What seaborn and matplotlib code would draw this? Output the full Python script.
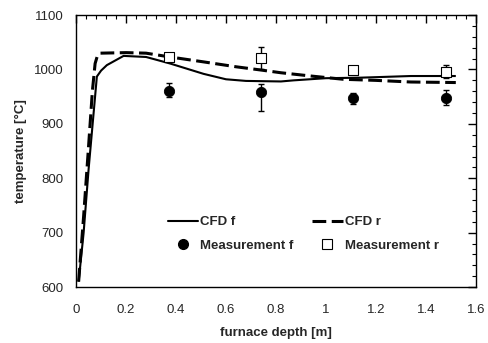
import numpy as np
import pandas as pd
import seaborn as sns
import matplotlib.pyplot as plt
from matplotlib.lines import Line2D
from matplotlib.ticker import MultipleLocator

# CFD profiles
cfd_f_x = [0.01, 0.03, 0.05, 0.07, 0.083, 0.10, 0.123, 0.19, 0.28, 0.376, 0.51, 0.60, 0.68, 0.82, 0.87, 1.0, 1.14, 1.34, 1.52]
cfd_f_t = [610, 700, 817, 920, 987, 998, 1008, 1025, 1023, 1011, 992, 982, 979, 978, 980, 984, 985, 988, 988]
cfd_r_x = [0.01, 0.03, 0.05, 0.065, 0.076, 0.085, 0.096, 0.2, 0.28, 0.376, 0.51, 0.64, 0.74, 0.82, 0.94, 1.07, 1.2, 1.34, 1.52]
cfd_r_t = [610, 730, 860, 960, 1011, 1025, 1030, 1031, 1030, 1023, 1014, 1005, 999, 994, 988, 982, 980, 977, 976]

# measurements
meas_x = [0.37, 0.74, 1.11, 1.48]
meas_f = [961, 958, 948, 948]
meas_f_lo = [12, 35, 12, 13]
meas_f_hi = [15, 16, 8, 14]
meas_r = [1023, 1021, 999, 996]
meas_r_err = [8, 20, 0, 12]

xtick_labels = ['0', '0.2', '0.4', '0.6', '0.8', '1', '1.2', '1.4', '1.6']

lines = pd.concat([
    pd.DataFrame({'x': cfd_f_x, 't': cfd_f_t, 'case': 'CFD f'}),
    pd.DataFrame({'x': cfd_r_x, 't': cfd_r_t, 'case': 'CFD r'}),
], ignore_index=True)

sns.set_theme(style='white')
plt.rcParams['font.family'] = ['Liberation Sans', 'DejaVu Sans']

fig, ax = plt.subplots(figsize=(4.88, 3.43), dpi=100)
fig.subplots_adjust(left=0.156, right=0.975, top=0.956, bottom=0.163)

sns.lineplot(data=lines, x='x', y='t', hue='case', style='case',
             palette=['black', 'black'], dashes=[(1, 0), (4.5, 1.8)],
             sort=False, ax=ax, legend=False)
ax.lines[0].set_linewidth(1.5)
ax.lines[1].set_linewidth(2.2)

ax.errorbar(meas_x, meas_f, yerr=[meas_f_lo, meas_f_hi], fmt='none',
            ecolor='black', elinewidth=1, capsize=2.5, zorder=3)
ax.errorbar(meas_x, meas_r, yerr=meas_r_err, fmt='none',
            ecolor='black', elinewidth=1, capsize=2.5, zorder=3)
sns.scatterplot(x=meas_x, y=meas_f, marker='o', color='black', s=55,
                edgecolor='black', ax=ax, zorder=4)
sns.scatterplot(x=meas_x, y=meas_r, marker='s', color='white', s=55,
                edgecolor='black', linewidth=0.8, ax=ax, zorder=4)

handles = [
    Line2D([], [], color='black', lw=1.5),
    Line2D([], [], color='black', marker='o', ls='none', ms=7),
    Line2D([], [], color='black', lw=2.2, ls=(0, (4.5, 1.8))),
    Line2D([], [], color='black', marker='s', ls='none', ms=7, mfc='white', mew=0.8),
]
labels = ['CFD f', 'Measurement f', 'CFD r', 'Measurement r']
ax.legend(handles, labels, ncol=2, frameon=False, loc='center left',
          bbox_to_anchor=(0.23, 0.195), borderaxespad=0, borderpad=0,
          handlelength=2.3, handletextpad=0.15,
          columnspacing=1.4, labelspacing=0.85,
          prop={'weight': 'bold', 'size': 9.5})

ax.set_xlim(0, 1.6)
ax.set_ylim(600, 1100)
ax.xaxis.set_minor_locator(MultipleLocator(0.04))
ax.yaxis.set_major_locator(MultipleLocator(100))
ax.yaxis.set_minor_locator(MultipleLocator(20))
ax.set_xticks(np.arange(0, 1.61, 0.2))
ax.set_xticklabels(xtick_labels)
ax.tick_params(which='both', direction='in', top=True, right=True, color='black',
               labelsize=9.5)
ax.tick_params(axis='x', which='major', pad=12)
ax.tick_params(axis='y', which='major', pad=9)
ax.tick_params(which='major', length=6, width=1)
ax.tick_params(which='minor', length=3, width=0.8)

ax.set_xlabel('furnace depth [m]', fontweight='bold', fontsize=9.5, labelpad=8)
ax.set_ylabel('temperature [°C]', fontweight='bold', fontsize=9.5, labelpad=5)

for sp in ax.spines.values():
    sp.set_color('black')
    sp.set_linewidth(1)

fig.savefig('out.png', dpi=100)
